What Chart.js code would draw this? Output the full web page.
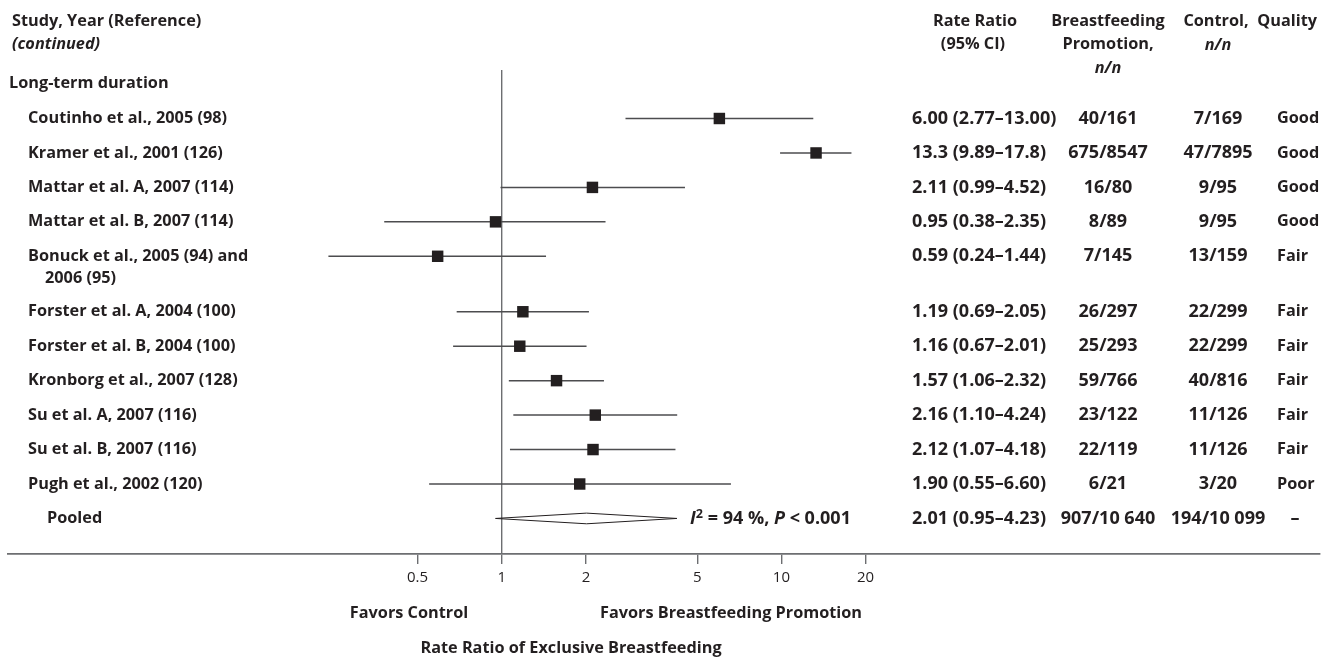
<!DOCTYPE html>
<html><head><meta charset="utf-8">
<script src="https://cdn.jsdelivr.net/npm/chart.js@4.4.1/dist/chart.umd.min.js"></script>
<style>html,body{margin:0;padding:0;background:#fff}#wrap{width:1333px;height:665px;position:relative}</style>
</head><body><div id="wrap"><canvas id="c" width="1333" height="665"></canvas></div>
<script>
// ---- data ----
const studies = ["Coutinho et al., 2005 (98)", "Kramer et al., 2001 (126)", "Mattar et al. A, 2007 (114)", "Mattar et al. B, 2007 (114)", "Bonuck et al., 2005 (94) and|2006 (95)", "Forster et al. A, 2004 (100)", "Forster et al. B, 2004 (100)", "Kronborg et al., 2007 (128)", "Su et al. A, 2007 (116)", "Su et al. B, 2007 (116)", "Pugh et al., 2002 (120)"];
const rateRatio = [6.00, 13.3, 2.11, 0.95, 0.59, 1.19, 1.16, 1.57, 2.16, 2.12, 1.90];
const ciLower = [2.77, 9.89, 0.99, 0.38, 0.24, 0.69, 0.67, 1.06, 1.10, 1.07, 0.55];
const ciUpper = [13.00, 17.8, 4.52, 2.35, 1.44, 2.05, 2.01, 2.32, 4.24, 4.18, 6.60];
const rateRatioText = ["6.00 (2.77–13.00)", "13.3 (9.89–17.8)", "2.11 (0.99–4.52)", "0.95 (0.38–2.35)", "0.59 (0.24–1.44)", "1.19 (0.69–2.05)", "1.16 (0.67–2.01)", "1.57 (1.06–2.32)", "2.16 (1.10–4.24)", "2.12 (1.07–4.18)", "1.90 (0.55–6.60)"];
const promotionCounts = ["40/161", "675/8547", "16/80", "8/89", "7/145", "26/297", "25/293", "59/766", "23/122", "22/119", "6/21"];
const controlCounts = ["7/169", "47/7895", "9/95", "9/95", "13/159", "22/299", "22/299", "40/816", "11/126", "11/126", "3/20"];
const quality = ["Good", "Good", "Good", "Good", "Fair", "Fair", "Fair", "Fair", "Fair", "Fair", "Poor"];
const pooledLabel = "Pooled";
const pooledEstimate = [2.01, 0.95, 4.23]; // RR, lower, upper
const pooledText = ["2.01 (0.95–4.23)", "907/10 640", "194/10 099", "–"];
const heterogeneity = ["94 %", "0.001"];
const xTicks = [0.5, 1, 2, 5, 10, 20];

// ---- layout helpers ----
const ROW_GAP = 0.61; // extra space after the two-line label
const rowPos = i => i + (i >= 5 ? ROW_GAP : 0);
const pooledRow = rowPos(studies.length);
const DIAMOND_H = 0.155;

const TXT = '#231f20';
const LINE = '#4d4d4f';
const AXIS = '#6d6e71';
const FAM = '"Open Sans", "Noto Sans", sans-serif';
const WEIGHT = 700;

const datasets = [];
datasets.push({
  type: 'scatter',
  data: rateRatio.map((v, i) => ({x: v, y: rowPos(i)})),
  pointStyle: 'rect', pointRadius: 8.1, pointHoverRadius: 8.1,
  backgroundColor: TXT, borderWidth: 0
});
studies.forEach((s, i) => {
  datasets.push({
    type: 'line',
    data: [{x: ciLower[i], y: rowPos(i)}, {x: ciUpper[i], y: rowPos(i)}],
    borderColor: LINE, borderWidth: 1.5, pointRadius: 0, fill: false
  });
});
datasets.push({
  type: 'line',
  data: [
    {x: pooledEstimate[1], y: pooledRow},
    {x: pooledEstimate[0], y: pooledRow - DIAMOND_H},
    {x: pooledEstimate[2], y: pooledRow},
    {x: pooledEstimate[0], y: pooledRow + DIAMOND_H},
    {x: pooledEstimate[1], y: pooledRow}
  ],
  borderColor: TXT, borderWidth: 1, pointRadius: 0, fill: false, tension: 0
});

function fitSize(ctx, strings, target) {
  ctx.font = `${WEIGHT} 100px ${FAM}`;
  let w = 0;
  strings.forEach(s => { w += ctx.measureText(s).width; });
  return 100 * target / w;
}

const textPlugin = {
  id: 'forestText',
  afterDraw(chart) {
    const ctx = chart.ctx;
    const ys = chart.scales.y;
    ctx.save();
    const fs = fitSize(ctx, ['Study, Year (Reference)', 'Favors Breastfeeding Promotion', 'Long-term duration', 'Coutinho et al., 2005 (98)'], 186 + 258 + 157 + 210);
    const fn = fitSize(ctx, ['6.00 (2.77–13.00)', '907/10 640'], 144 + 95);
    const B = `${WEIGHT} ${fs}px ${FAM}`;
    const BI = `italic ${WEIGHT} ${fs}px ${FAM}`;
    const N = `${WEIGHT} ${fn}px ${FAM}`;
    const NI = `italic ${WEIGHT} ${fn}px ${FAM}`;
    ctx.fillStyle = TXT;
    ctx.textBaseline = 'middle';
    const put = (t, x, y, align, font) => { ctx.font = font || B; ctx.textAlign = align || 'left'; ctx.fillText(t, x, y); };
    // headers
    put('Study, Year (Reference)', 12, 21);
    put('(continued)', 12, 44, 'left', BI);
    put('Long-term duration', 9, 83);
    put('Rate Ratio', 975, 21, 'center');
    put('(95% CI)', 973, 44, 'center');
    put('Breastfeeding', 1108, 21, 'center');
    put('Promotion,', 1108, 44, 'center');
    put('n/n', 1108, 68, 'center', BI);
    put('Control,', 1216, 21, 'center');
    put('n/n', 1218, 45, 'center', BI);
    put('Quality', 1317, 21, 'right');
    // rows
    studies.forEach((s, i) => {
      const y = ys.getPixelForValue(rowPos(i));
      const parts = s.split('|');
      put(parts[0], 28, y);
      if (parts[1]) put(parts[1], 45, y + 21.6);
      put(rateRatioText[i], 912, y, 'left', N);
      put(promotionCounts[i], 1108, y, 'center', N);
      put(controlCounts[i], 1218, y, 'center', N);
      put(quality[i], 1277, y);
    });
    const yp = ys.getPixelForValue(pooledRow);
    put(pooledLabel, 47, yp);
    put(pooledText[0], 912, yp, 'left', N);
    put(pooledText[1], 1108, yp, 'center', N);
    put(pooledText[2], 1218, yp, 'center', N);
    put(pooledText[3], 1295, yp, 'center', N);
    // heterogeneity
    let x = 690;
    const seg = (t, font, dy) => { ctx.font = font; ctx.textAlign = 'left'; ctx.fillText(t, x, yp + (dy || 0)); x += ctx.measureText(t).width; };
    seg('I', NI);
    seg('2', `${WEIGHT} ${fn * 0.7}px ${FAM}`, -4);
    seg(' = ' + heterogeneity[0] + ', ', N);
    seg('P', NI);
    seg(' < ' + heterogeneity[1], N);
    // bottom labels
    put('Favors Control', 409, 613, 'center');
    put('Favors Breastfeeding Promotion', 600, 613, 'left');
    put('Rate Ratio of Exclusive Breastfeeding', 571, 648, 'center');
    ctx.restore();
  }
};

new Chart(document.getElementById('c'), {
  data: {datasets},
  options: {
    responsive: false, animation: false, devicePixelRatio: 1,
    layout: {padding: {top: 70, left: 0, right: 13, bottom: 0}},
    plugins: {legend: {display: false}, tooltip: {enabled: false}},
    scales: {
      x: {
        type: 'logarithmic', position: 'bottom',
        min: 0.017175, max: 842.9, bounds: 'data',
        afterBuildTicks: s => { s.ticks = xTicks.map(v => ({value: v})); },
        afterFit: s => { s.height = 111; },
        ticks: {
          autoSkip: false, maxRotation: 0, padding: 5,
          color: TXT, font: {family: FAM, size: 15},
          callback: v => String(v)
        },
        grid: {
          drawOnChartArea: true, drawTicks: true, tickLength: 10,
          color: c => (c.tick && c.tick.value === 1) ? AXIS : 'rgba(0,0,0,0)',
          lineWidth: 1.4, tickColor: AXIS, tickWidth: 1.4
        },
        border: {display: true, color: AXIS, width: 1.7}
      },
      y: {
        type: 'linear', display: false, reverse: true,
        min: -1.408, max: 12.642
      }
    }
  },
  plugins: [textPlugin]
});
</script></body></html>
